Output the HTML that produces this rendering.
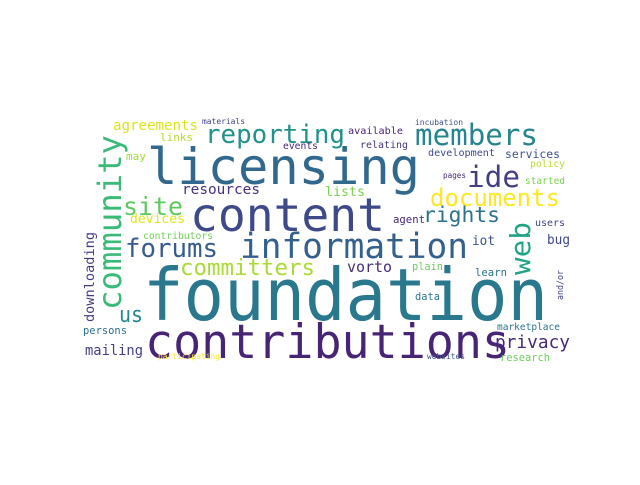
<!DOCTYPE html>
<html><head><meta charset="utf-8"><style>
html,body{margin:0;padding:0;background:#fff;}
svg text{font-family:"DejaVu Sans Mono","Liberation Mono",monospace;}
</style></head><body>
<svg width="640" height="480" viewBox="0 0 640 480" xmlns="http://www.w3.org/2000/svg">
<rect width="640" height="480" fill="#fff"/>
<g>
<text x="143" y="320" font-size="72" textLength="405" lengthAdjust="spacingAndGlyphs" fill="#2a788e">foundation</text>
<text x="147" y="184" font-size="50" textLength="273" lengthAdjust="spacingAndGlyphs" fill="#31688e">licensing</text>
<text x="190" y="231" font-size="46" textLength="195" lengthAdjust="spacingAndGlyphs" fill="#3e4989">content</text>
<text x="145" y="358" font-size="47" textLength="365" lengthAdjust="spacingAndGlyphs" fill="#482475">contributions</text>
<text x="240" y="258" font-size="35" textLength="228" lengthAdjust="spacingAndGlyphs" fill="#33608d">information</text>
<text transform="translate(121,310) rotate(-90)" font-size="32" textLength="175" lengthAdjust="spacingAndGlyphs" fill="#3aba76">community</text>
<text x="205" y="143" font-size="26" textLength="140" lengthAdjust="spacingAndGlyphs" fill="#21918c">reporting</text>
<text x="415" y="145" font-size="29" textLength="123" lengthAdjust="spacingAndGlyphs" fill="#25848e">members</text>
<text x="113" y="130" font-size="14" textLength="85" lengthAdjust="spacingAndGlyphs" fill="#dde318">agreements</text>
<text x="202" y="124" font-size="8" textLength="43" lengthAdjust="spacingAndGlyphs" fill="#414487">materials</text>
<text x="160" y="141" font-size="11" textLength="33" lengthAdjust="spacingAndGlyphs" fill="#b5de2b">links</text>
<text x="126" y="160" font-size="11" textLength="20" lengthAdjust="spacingAndGlyphs" fill="#a0da39">may</text>
<text x="283" y="149" font-size="10" textLength="35" lengthAdjust="spacingAndGlyphs" fill="#482878">events</text>
<text x="182" y="194" font-size="14.5" textLength="78" lengthAdjust="spacingAndGlyphs" fill="#472f7d">resources</text>
<text x="123" y="215" font-size="25" textLength="60" lengthAdjust="spacingAndGlyphs" fill="#5ec962">site</text>
<text x="130" y="223" font-size="13" textLength="55" lengthAdjust="spacingAndGlyphs" fill="#e2e418">devices</text>
<text x="143" y="239" font-size="10" textLength="70" lengthAdjust="spacingAndGlyphs" fill="#73d056">contributors</text>
<text x="125" y="257" font-size="26" textLength="93" lengthAdjust="spacingAndGlyphs" fill="#365c8d">forums</text>
<text x="180" y="275" font-size="22" textLength="135" lengthAdjust="spacingAndGlyphs" fill="#a8db34">committers</text>
<text x="119" y="322" font-size="22" textLength="24" lengthAdjust="spacingAndGlyphs" fill="#23898e">us</text>
<text transform="translate(94,322) rotate(-90)" font-size="13" textLength="90" lengthAdjust="spacingAndGlyphs" fill="#443983">downloading</text>
<text x="83" y="334" font-size="10.5" textLength="44" lengthAdjust="spacingAndGlyphs" fill="#2c728e">persons</text>
<text x="85" y="355" font-size="14" textLength="58" lengthAdjust="spacingAndGlyphs" fill="#433e85">mailing</text>
<text x="158" y="359" font-size="8" textLength="62" lengthAdjust="spacingAndGlyphs" fill="#fde725">participating</text>
<text x="348" y="134" font-size="10" textLength="55" lengthAdjust="spacingAndGlyphs" fill="#482475">available</text>
<text x="415" y="125" font-size="8" textLength="48" lengthAdjust="spacingAndGlyphs" fill="#3b528b">incubation</text>
<text x="360" y="148" font-size="10" textLength="48" lengthAdjust="spacingAndGlyphs" fill="#46337e">relating</text>
<text x="428" y="156" font-size="10" textLength="67" lengthAdjust="spacingAndGlyphs" fill="#3e4989">development</text>
<text x="505" y="158" font-size="11.5" textLength="55" lengthAdjust="spacingAndGlyphs" fill="#3b528b">services</text>
<text x="530" y="167" font-size="10" textLength="35" lengthAdjust="spacingAndGlyphs" fill="#b5de2b">policy</text>
<text x="467" y="187" font-size="29" textLength="53" lengthAdjust="spacingAndGlyphs" fill="#433e85">ide</text>
<text x="443" y="178" font-size="8" textLength="23" lengthAdjust="spacingAndGlyphs" fill="#482878">pages</text>
<text x="525" y="184" font-size="10" textLength="40" lengthAdjust="spacingAndGlyphs" fill="#7ad151">started</text>
<text x="325" y="196" font-size="13" textLength="40" lengthAdjust="spacingAndGlyphs" fill="#7ad151">lists</text>
<text x="430" y="206" font-size="24" textLength="130" lengthAdjust="spacingAndGlyphs" fill="#fde725">documents</text>
<text x="423" y="222" font-size="21" textLength="77" lengthAdjust="spacingAndGlyphs" fill="#2c728e">rights</text>
<text x="393" y="223" font-size="10.5" textLength="32" lengthAdjust="spacingAndGlyphs" fill="#482878">agent</text>
<text transform="translate(530,275) rotate(-90)" font-size="28" textLength="53" lengthAdjust="spacingAndGlyphs" fill="#20a486">web</text>
<text x="535" y="226" font-size="10" textLength="30" lengthAdjust="spacingAndGlyphs" fill="#414487">users</text>
<text x="472" y="245" font-size="13" textLength="23" lengthAdjust="spacingAndGlyphs" fill="#3b528b">iot</text>
<text x="547" y="244" font-size="13" textLength="23" lengthAdjust="spacingAndGlyphs" fill="#3e4989">bug</text>
<text x="347" y="272" font-size="15" textLength="45" lengthAdjust="spacingAndGlyphs" fill="#472c7a">vorto</text>
<text x="412" y="270" font-size="10.5" textLength="31" lengthAdjust="spacingAndGlyphs" fill="#6ccd5a">plain</text>
<text x="475" y="276" font-size="10.5" textLength="32" lengthAdjust="spacingAndGlyphs" fill="#2c728e">learn</text>
<text transform="translate(563,300) rotate(-90)" font-size="9" textLength="30" lengthAdjust="spacingAndGlyphs" fill="#414487">and/or</text>
<text x="415" y="300" font-size="10.5" textLength="25" lengthAdjust="spacingAndGlyphs" fill="#2a788e">data</text>
<text x="497" y="330" font-size="10" textLength="63" lengthAdjust="spacingAndGlyphs" fill="#2c728e">marketplace</text>
<text x="495" y="348" font-size="18" textLength="75" lengthAdjust="spacingAndGlyphs" fill="#482878">privacy</text>
<text x="427" y="359" font-size="8" textLength="38" lengthAdjust="spacingAndGlyphs" fill="#3b528b">websites</text>
<text x="500" y="361" font-size="10.5" textLength="50" lengthAdjust="spacingAndGlyphs" fill="#6ccd5a">research</text>
</g>
</svg>
</body></html>
